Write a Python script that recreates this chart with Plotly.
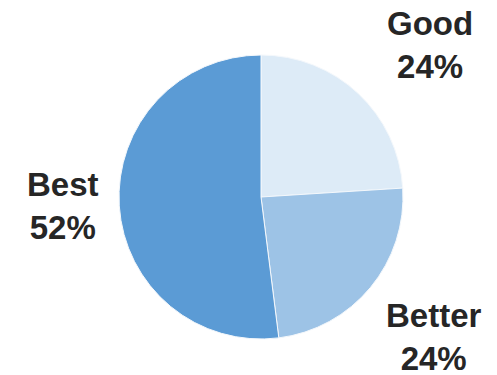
import math
import plotly.graph_objects as go

# Share of ratings by tier
labels = ["Good", "Better", "Best"]
shares = [24, 24, 52]
colors = ["#DDEBF7", "#9DC3E6", "#5B9BD5"]

W, H = 497, 375
cx, cy, r = 261, 197, 142            # pie centre / radius in pixels
label_dist = [1.60, 1.565, 1.396]    # label distance from centre, in radii
label_turn = [4.8, -0.6, 1.0]        # small angular nudge of each label, degrees

fig = go.Figure(go.Pie(
    labels=labels,
    values=shares,
    sort=False,
    direction="clockwise",
    rotation=0,
    textinfo="none",
    hoverinfo="label+percent",
    marker=dict(colors=colors, line=dict(color="#F4F8FC", width=1)),
    domain=dict(x=[(cx - r) / W, (cx + r) / W],
                y=[(H - cy - r) / H, (H - cy + r) / H]),
    showlegend=False,
))

# Outside labels placed along each slice's mid-angle
total = sum(shares)
start = 0.0
for name, v, d, turn in zip(labels, shares, label_dist, label_turn):
    mid = math.radians((start + v / 2) / total * 360 + turn)
    start += v
    px = cx + d * r * math.sin(mid)
    py = cy - d * r * math.cos(mid)
    fig.add_annotation(
        x=px / W, y=1 - py / H, xref="paper", yref="paper",
        text=f"<b>{name}<br>{v}%</b>", showarrow=False,
        xanchor="center", yanchor="middle", align="center",
        font=dict(family="Liberation Sans, Arial, sans-serif", size=33, color="#262626"),
    )

fig.update_layout(
    width=W, height=H,
    margin=dict(l=0, r=0, t=0, b=0),
    paper_bgcolor="white", plot_bgcolor="white",
)

fig.write_html("out.html")
